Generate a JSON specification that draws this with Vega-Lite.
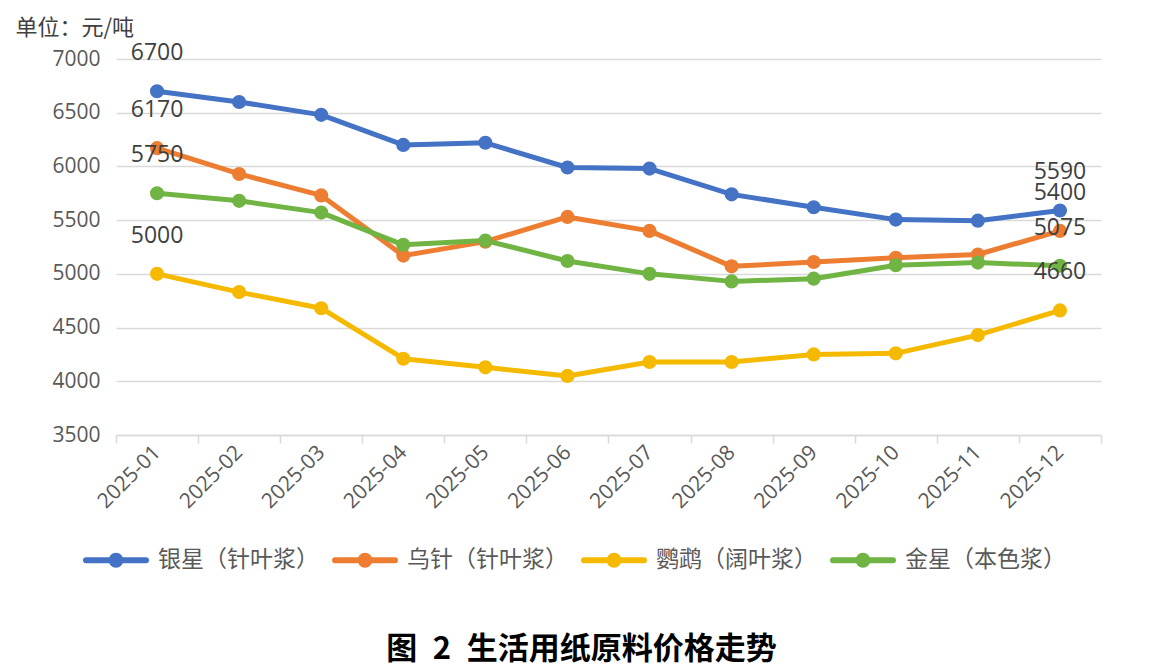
{
  "$schema": "https://vega.github.io/schema/vega-lite/v6.json",
  "width": 985,
  "height": 376,
  "autosize": {"type": "none"},
  "padding": {"left": 116, "top": 59, "right": 59, "bottom": 234},
  "background": "white",
  "title": {
    "text": "图\u20022\u2002生活用纸原料价格走势",
    "orient": "bottom",
    "anchor": "middle",
    "dx": -27,
    "offset": 58,
    "font": "Noto Sans CJK SC",
    "fontSize": 31,
    "fontWeight": "bold",
    "color": "#000000"
  },
  "data": {
    "values": [
      {"month": "2025-01", "series": "银星（针叶浆）", "price": 6700},
      {"month": "2025-02", "series": "银星（针叶浆）", "price": 6600},
      {"month": "2025-03", "series": "银星（针叶浆）", "price": 6480},
      {"month": "2025-04", "series": "银星（针叶浆）", "price": 6200},
      {"month": "2025-05", "series": "银星（针叶浆）", "price": 6220},
      {"month": "2025-06", "series": "银星（针叶浆）", "price": 5990},
      {"month": "2025-07", "series": "银星（针叶浆）", "price": 5980},
      {"month": "2025-08", "series": "银星（针叶浆）", "price": 5740},
      {"month": "2025-09", "series": "银星（针叶浆）", "price": 5620},
      {"month": "2025-10", "series": "银星（针叶浆）", "price": 5505},
      {"month": "2025-11", "series": "银星（针叶浆）", "price": 5495},
      {"month": "2025-12", "series": "银星（针叶浆）", "price": 5590},
      {"month": "2025-01", "series": "乌针（针叶浆）", "price": 6170},
      {"month": "2025-02", "series": "乌针（针叶浆）", "price": 5930},
      {"month": "2025-03", "series": "乌针（针叶浆）", "price": 5730},
      {"month": "2025-04", "series": "乌针（针叶浆）", "price": 5170},
      {"month": "2025-05", "series": "乌针（针叶浆）", "price": 5300},
      {"month": "2025-06", "series": "乌针（针叶浆）", "price": 5530},
      {"month": "2025-07", "series": "乌针（针叶浆）", "price": 5400},
      {"month": "2025-08", "series": "乌针（针叶浆）", "price": 5070},
      {"month": "2025-09", "series": "乌针（针叶浆）", "price": 5110},
      {"month": "2025-10", "series": "乌针（针叶浆）", "price": 5150},
      {"month": "2025-11", "series": "乌针（针叶浆）", "price": 5180},
      {"month": "2025-12", "series": "乌针（针叶浆）", "price": 5400},
      {"month": "2025-01", "series": "鹦鹉（阔叶浆）", "price": 5000},
      {"month": "2025-02", "series": "鹦鹉（阔叶浆）", "price": 4830},
      {"month": "2025-03", "series": "鹦鹉（阔叶浆）", "price": 4680},
      {"month": "2025-04", "series": "鹦鹉（阔叶浆）", "price": 4210},
      {"month": "2025-05", "series": "鹦鹉（阔叶浆）", "price": 4130},
      {"month": "2025-06", "series": "鹦鹉（阔叶浆）", "price": 4050},
      {"month": "2025-07", "series": "鹦鹉（阔叶浆）", "price": 4180},
      {"month": "2025-08", "series": "鹦鹉（阔叶浆）", "price": 4180},
      {"month": "2025-09", "series": "鹦鹉（阔叶浆）", "price": 4250},
      {"month": "2025-10", "series": "鹦鹉（阔叶浆）", "price": 4260},
      {"month": "2025-11", "series": "鹦鹉（阔叶浆）", "price": 4430},
      {"month": "2025-12", "series": "鹦鹉（阔叶浆）", "price": 4660},
      {"month": "2025-01", "series": "金星（本色浆）", "price": 5750},
      {"month": "2025-02", "series": "金星（本色浆）", "price": 5680},
      {"month": "2025-03", "series": "金星（本色浆）", "price": 5570},
      {"month": "2025-04", "series": "金星（本色浆）", "price": 5270},
      {"month": "2025-05", "series": "金星（本色浆）", "price": 5310},
      {"month": "2025-06", "series": "金星（本色浆）", "price": 5120},
      {"month": "2025-07", "series": "金星（本色浆）", "price": 5000},
      {"month": "2025-08", "series": "金星（本色浆）", "price": 4930},
      {"month": "2025-09", "series": "金星（本色浆）", "price": 4955},
      {"month": "2025-10", "series": "金星（本色浆）", "price": 5080},
      {"month": "2025-11", "series": "金星（本色浆）", "price": 5105},
      {"month": "2025-12", "series": "金星（本色浆）", "price": 5075}
    ]
  },
  "encoding": {
    "x": {
      "field": "month",
      "type": "ordinal",
      "bandPosition": 0.5,
      "scale": {"type": "band", "paddingInner": 0, "paddingOuter": 0},
      "axis": {
        "title": null,
        "labelAngle": -45,
        "labelAlign": "right",
        "labelBaseline": "middle",
        "labelFont": "Open Sans",
        "labelFontSize": 21,
        "labelColor": "#595959",
        "labelPadding": 6,
        "tickBand": "extent",
        "tickColor": "#d9d9d9",
        "tickWidth": 1.5,
        "tickSize": 8,
        "domainColor": "#d9d9d9",
        "domainWidth": 1.5,
        "grid": false
      }
    },
    "y": {
      "field": "price",
      "type": "quantitative",
      "scale": {"domain": [3500, 7000], "nice": false, "zero": false},
      "axis": {
        "values": [3500, 4000, 4500, 5000, 5500, 6000, 6500, 7000],
        "format": "d",
        "title": "单位：元/吨",
        "titleAngle": 0,
        "titleAlign": "left",
        "titleBaseline": "middle",
        "titleX": -101,
        "titleY": -32,
        "titleFont": "Noto Sans CJK SC",
        "titleFontSize": 22,
        "titleFontWeight": "normal",
        "titleColor": "#404040",
        "labelFont": "Open Sans",
        "labelFontSize": 21,
        "labelColor": "#595959",
        "labelPadding": 16,
        "domain": false,
        "ticks": false,
        "grid": true,
        "gridColor": "#d9d9d9",
        "gridWidth": 1.5
      }
    },
    "color": {
      "field": "series",
      "type": "nominal",
      "sort": ["银星（针叶浆）", "乌针（针叶浆）", "鹦鹉（阔叶浆）", "金星（本色浆）"],
      "scale": {
        "domain": ["银星（针叶浆）", "乌针（针叶浆）", "鹦鹉（阔叶浆）", "金星（本色浆）"],
        "range": ["#4472C4", "#ED7D31", "#F5BA00", "#70B443"]
      },
      "legend": {
        "title": null,
        "orient": "none",
        "direction": "horizontal",
        "legendX": -33,
        "legendY": 468,
        "padding": 0,
        "symbolType": "M-1,0H1M-0.15,0A0.15,0.15,0,1,0,0.15,0A0.15,0.15,0,1,0,-0.15,0Z",
        "symbolSize": 3600,
        "symbolStrokeWidth": 6,
        "labelFont": "Noto Sans CJK SC",
        "labelFontSize": 23,
        "labelColor": "#595959",
        "labelOffset": 9,
        "labelLimit": 0,
        "columnPadding": 4,
        "encode": {
          "symbols": {
            "update": {
              "fill": {"scale": "color", "field": "value"},
              "stroke": {"scale": "color", "field": "value"},
              "strokeCap": {"value": "round"},
              "opacity": {"value": 1}
            }
          }
        }
      }
    }
  },
  "layer": [
    {
      "mark": {
        "type": "line",
        "strokeWidth": 5,
        "strokeCap": "round",
        "strokeJoin": "round",
        "point": {"filled": true, "size": 200, "opacity": 1}
      }
    },
    {
      "transform": [{"filter": {"field": "month", "oneOf": ["2025-01", "2025-12"]}}],
      "mark": {
        "type": "text",
        "dy": -38,
        "font": "Open Sans",
        "fontSize": 23,
        "color": "#404040"
      },
      "encoding": {
        "text": {"field": "price", "type": "quantitative", "format": "d"},
        "color": {"value": "#404040"}
      }
    }
  ],
  "config": {
    "view": {"stroke": null}
  }
}
